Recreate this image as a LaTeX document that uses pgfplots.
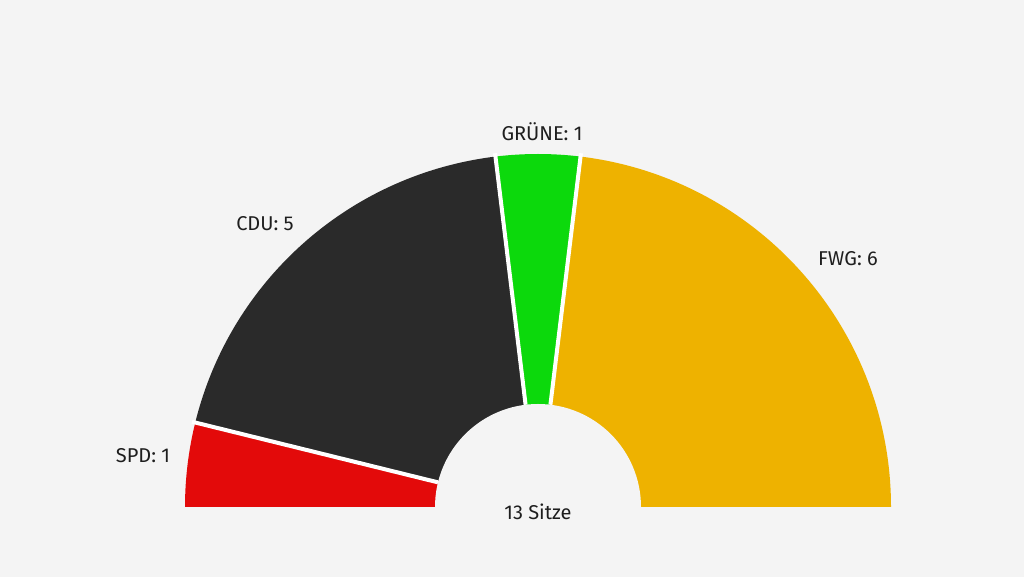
\documentclass[border=0pt]{standalone}
\usepackage{pgfplots}
\pgfplotsset{compat=1.18}
\usepackage{pgfplotstable}
\usepackage{fontspec}
\setmainfont{Fira Sans}
\definecolor{bg}{HTML}{F4F4F4}
\definecolor{spd}{HTML}{E30A0A}
\definecolor{cdu}{HTML}{2A2A2A}
\definecolor{gruene}{HTML}{0CD90C}
\definecolor{fwg}{HTML}{EEB200}
\definecolor{txt}{HTML}{1E1E1E}
% seats: SPD 1, CDU 5, GRUENE 1, FWG 6 (total 13)
\def\tot{13}
\def\Ro{264.75pt}
\def\Ri{77.25pt}
\begin{document}
\begin{tikzpicture}
\fill[bg] (0,0) rectangle (768pt,432.75pt);
\begin{axis}[at={(0,0)},anchor=south west,
  scale only axis, width=768pt, height=432.75pt,
  xmin=0, xmax=1024, ymin=0, ymax=577,
  hide axis, clip=false]
% sectors
\fill[spd] (axis cs:538,70) -- ++({180-0*180/\tot}:\Ro) arc[start angle={180-0*180/\tot}, end angle={180-1*180/\tot}, radius=\Ro] -- cycle;
\fill[cdu] (axis cs:538,70) -- ++({180-1*180/\tot}:\Ro) arc[start angle={180-1*180/\tot}, end angle={180-6*180/\tot}, radius=\Ro] -- cycle;
\fill[gruene] (axis cs:538,70) -- ++({180-6*180/\tot}:\Ro) arc[start angle={180-6*180/\tot}, end angle={180-7*180/\tot}, radius=\Ro] -- cycle;
\fill[fwg] (axis cs:538,70) -- ++({180-7*180/\tot}:\Ro) arc[start angle={180-7*180/\tot}, end angle={180-13*180/\tot}, radius=\Ro] -- cycle;
% hole (upper half only)
\fill[bg] (axis cs:538,70) ++(180:\Ri) arc[start angle=180, end angle=0, radius=\Ri] -- cycle;
% gaps
\draw[white, line width=3pt] (axis cs:538,70) ++({180-1*180/\tot}:\Ri) -- ++({180-1*180/\tot}:190pt);
\draw[white, line width=3pt] (axis cs:538,70) ++({180-6*180/\tot}:\Ri) -- ++({180-6*180/\tot}:190pt);
\draw[white, line width=3pt] (axis cs:538,70) ++({180-7*180/\tot}:\Ri) -- ++({180-7*180/\tot}:190pt);
% labels
\tikzset{lbl/.style={txt, inner sep=0pt, font=\fontsize{15}{17}\selectfont}}
\node[lbl] at (axis cs:143,121) {SPD: 1};
\node[lbl] at (axis cs:265,353) {CDU: 5};
\node[lbl] at (axis cs:542,445) {GRÜNE: 1};
\node[lbl] at (axis cs:848,318) {FWG: 6};
\node[lbl] at (axis cs:538,65) {13 Sitze};
\end{axis}
\end{tikzpicture}
\end{document}
